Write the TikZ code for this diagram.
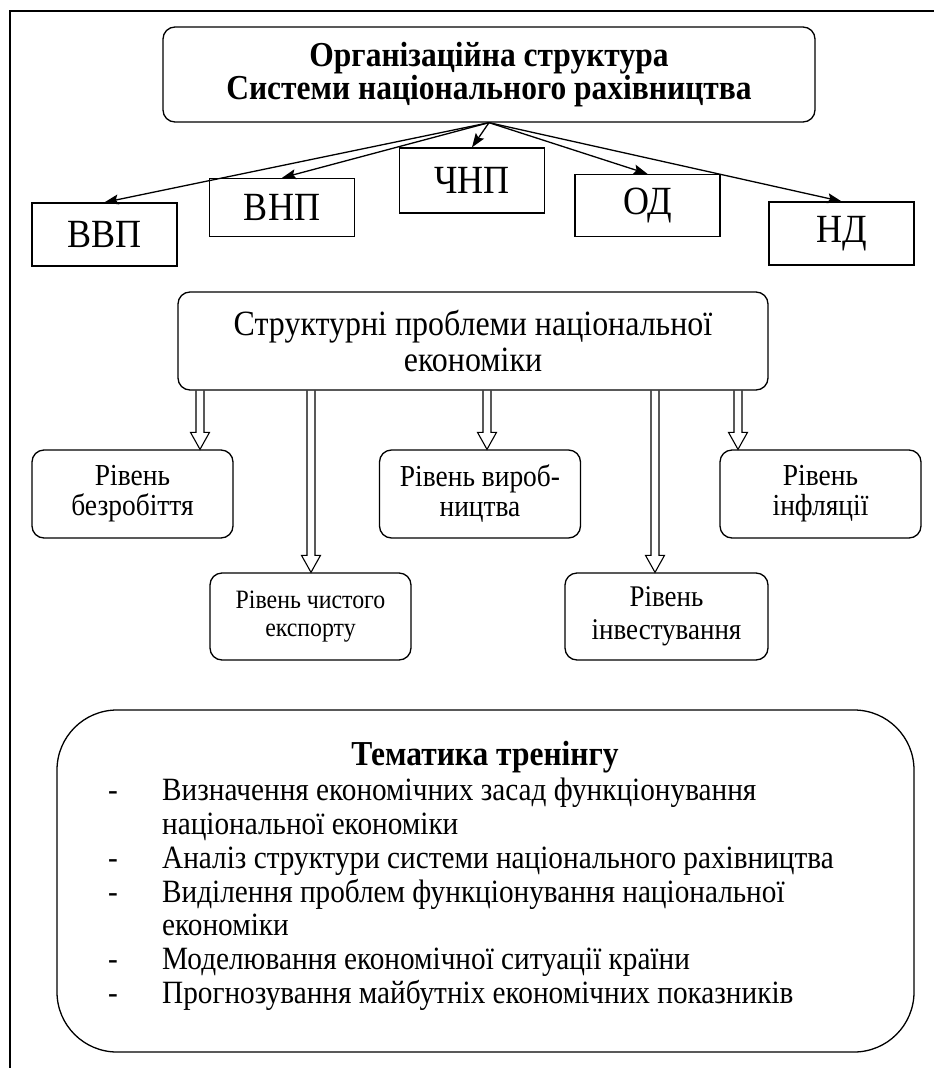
\documentclass[tikz,border=0pt]{standalone}
\usepackage{fontspec}
\setmainfont{Liberation Serif}[FakeStretch=0.9]
\lineskiplimit=-100pt
\usetikzlibrary{arrows.meta,calc}
\begin{document}
\begin{tikzpicture}[x=1bp,y=-1bp,
  lw/.style={line width=1.3bp},
  rbox/.style={draw, lw, rounded corners=12bp, align=center, inner sep=0pt},
  sbox/.style={draw, lw, align=center, inner sep=0pt, minimum width=145bp, font=\fontsize{40bp}{44bp}\selectfont},
  arr/.style={lw, -{Stealth[length=14bp,width=10bp,inset=2.5bp]}},
  hollow/.style={line width=1.1bp, to path={let \p1=(\tikztostart), \p2=(\tikztotarget) in
     (\x1-4bp,\y1) -- (\x1-4bp,\y2+17bp) -- (\x1-9.5bp,\y2+17bp) -- (\x1,\y2) -- (\x1+9.5bp,\y2+17bp) -- (\x1+4bp,\y2+17bp) -- (\x1+4bp,\y1)}},
  lvl/.style={rbox, minimum width=201bp, minimum height=88bp, font=\fontsize{30.5bp}{30bp}\selectfont}
]
\useasboundingbox (0,0) rectangle (934,1068);
% outer frame (top and left sides)
\draw[line width=1.6bp] (10,1068) -- (10,11) -- (934,11);

% top block
\node[rbox, minimum width=652bp, minimum height=95bp, font=\bfseries\fontsize{35bp}{33bp}\selectfont] (top) at (489,74.5)
  {Організаційна структура\\Системи національного рахівництва};

\node[sbox, minimum height=63bp] (vvp) at (104.5,234.5) {ВВП};
\node[sbox, minimum height=58bp] (vnp) at (282,207.5) {ВНП};
\node[sbox, minimum height=65bp] (chnp) at (472,180.5) {ЧНП};
\node[sbox, minimum height=62bp] (od) at (647.5,205.5) {ОД};
\node[sbox, minimum height=63bp] (nd) at (841.5,233.5) {НД};

\draw[arr] (top.south) -- (vvp.north);
\draw[arr] (top.south) -- (vnp.north);
\draw[arr] (top.south) -- (chnp.north);
\draw[arr] (top.south) -- (od.north);
\draw[arr] (top.south) -- (nd.north);

% structural problems block
\node[rbox, minimum width=590bp, minimum height=98bp, font=\fontsize{35.5bp}{36bp}\selectfont] (struct) at (473,341)
  {Структурні проблеми національної\\економіки};

\node[lvl] (bez) at (132.5,494) {Рівень\\безробіття};
\node[lvl] (vyr) at (480,494) {Рівень вироб-\\ництва};
\node[lvl] (infl) at (820.5,494) {Рівень\\інфляції};
\node[lvl, minimum height=87bp, font=\fontsize{26.5bp}{28bp}\selectfont] (exp) at (310.5,616.5) {Рівень чистого\\експорту};
\node[lvl, minimum width=203bp, minimum height=87bp, font=\fontsize{30bp}{33bp}\selectfont] (inv) at (666.5,616.5) {Рівень\\інвестування};

\coordinate (c1) at (200,0);
\coordinate (c2) at (311,0);
\coordinate (c3) at (487,0);
\coordinate (c4) at (655,0);
\coordinate (c5) at (738,0);
\draw[hollow] (c1 |- struct.south) to (c1 |- bez.north);
\draw[hollow] (c2 |- struct.south) to (c2 |- exp.north);
\draw[hollow] (c3 |- struct.south) to (c3 |- vyr.north);
\draw[hollow] (c4 |- struct.south) to (c4 |- inv.north);
\draw[hollow] (c5 |- struct.south) to (c5 |- infl.north);

% training topics
\node[draw, lw, rounded corners=60bp, minimum width=857bp, minimum height=342bp] (big) at (485.5,881) {};
\node[font=\bfseries\fontsize{35bp}{33bp}\selectfont, inner sep=0pt] (tema) at (485,757) {Тематика тренінгу};
\node[anchor=north west, align=left, inner sep=0pt, font=\fontsize{32.5bp}{33.8bp}\selectfont] (list) at (108,778)
  {\makebox[54bp][l]{-}Визначення економічних засад функціонування\\
   \hspace*{54bp}національної економіки\\
   \makebox[54bp][l]{-}Аналіз структури системи національного рахівництва\\
   \makebox[54bp][l]{-}Виділення проблем функціонування національної\\
   \hspace*{54bp}економіки\\
   \makebox[54bp][l]{-}Моделювання економічної ситуації країни\\
   \makebox[54bp][l]{-}Прогнозування майбутніх економічних показників};
\end{tikzpicture}
\end{document}
